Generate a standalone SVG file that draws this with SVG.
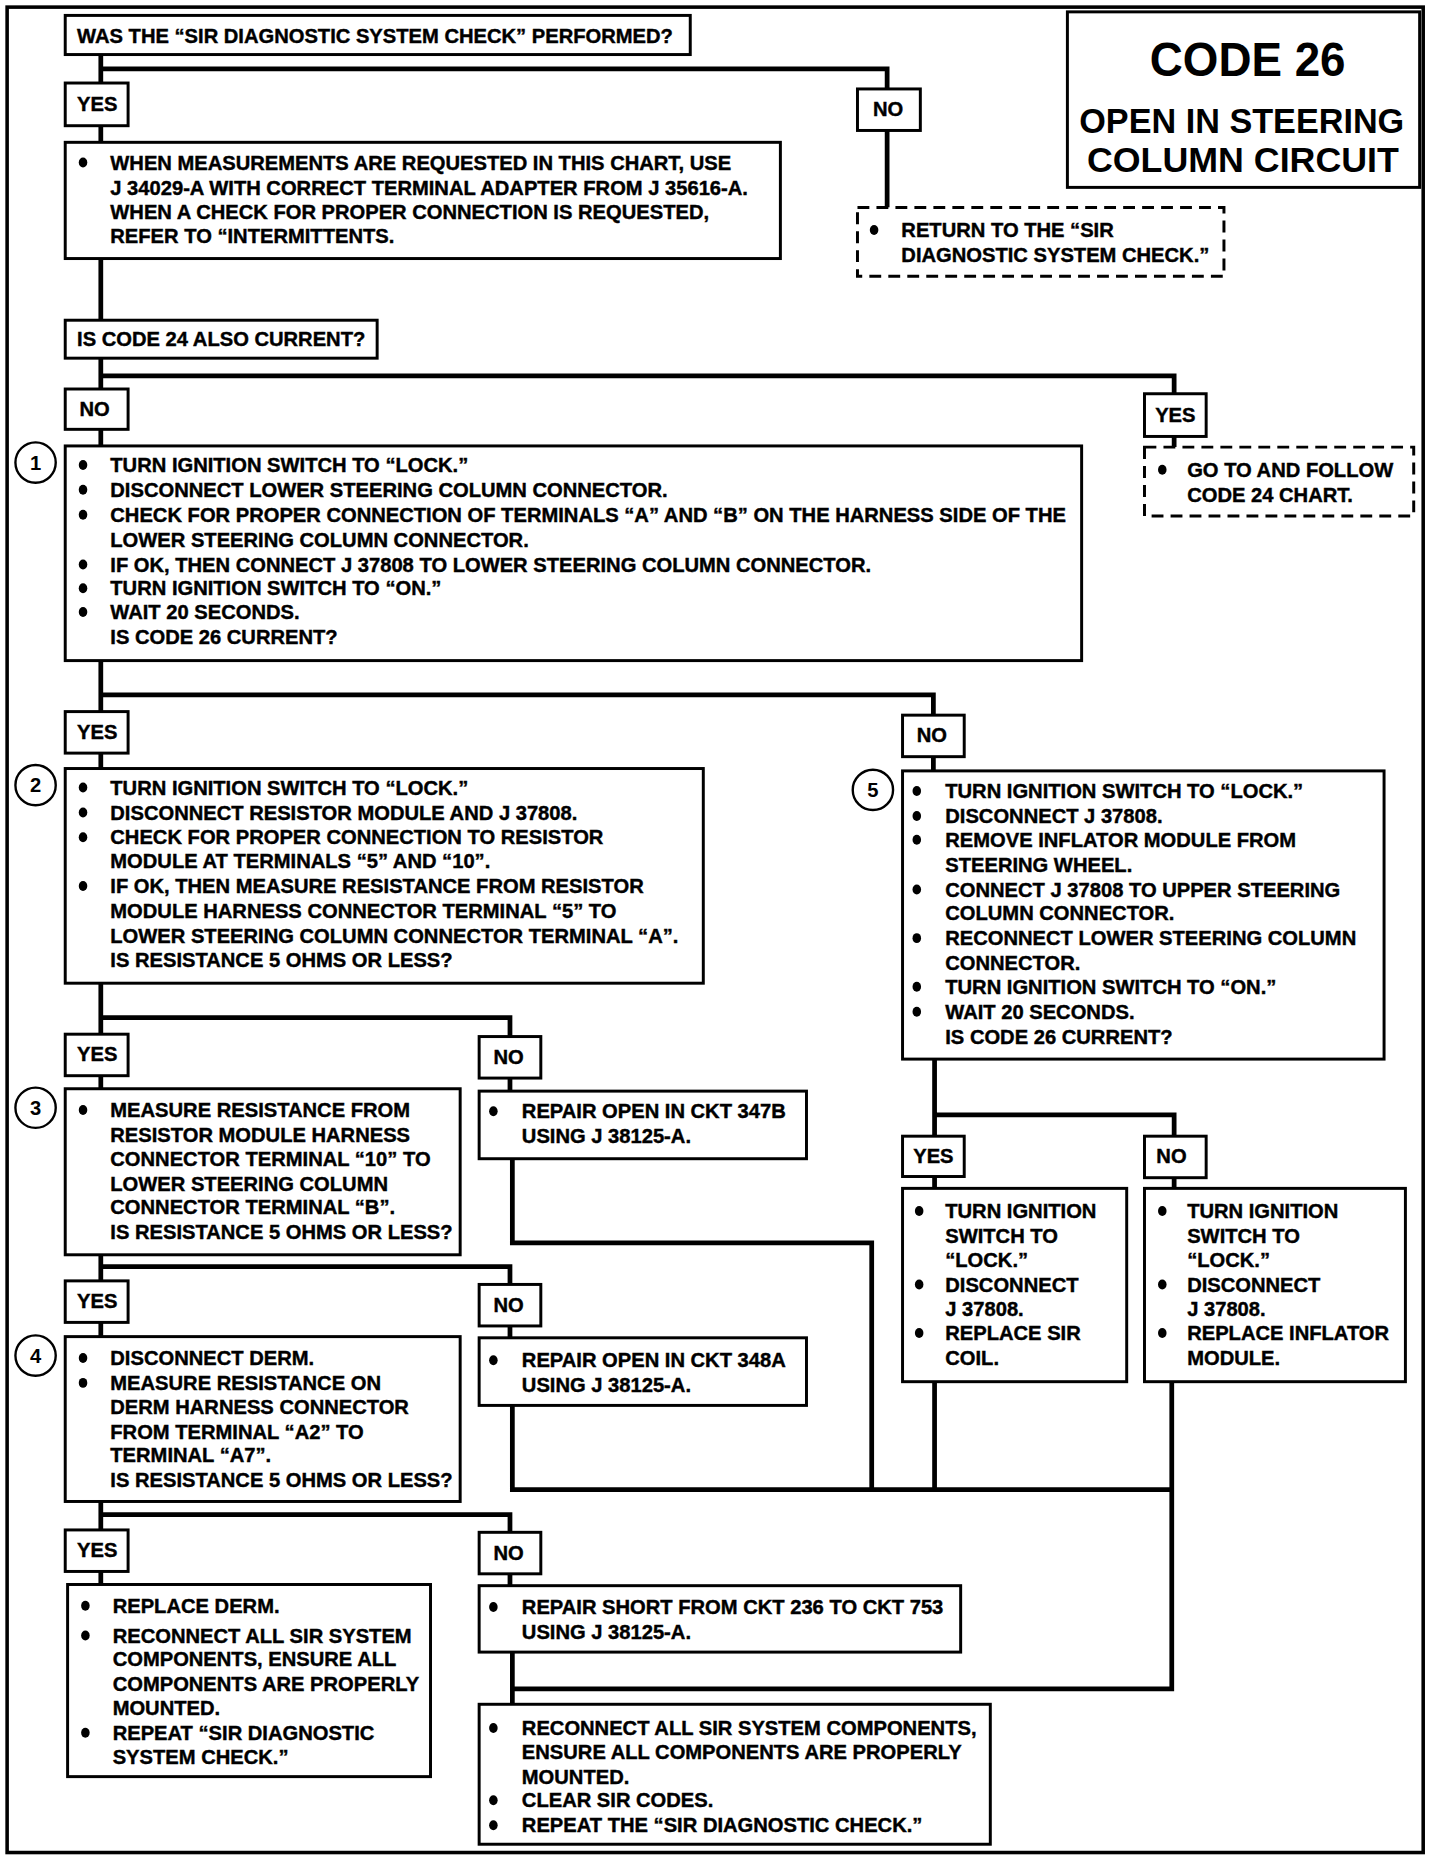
<svg xmlns="http://www.w3.org/2000/svg" width="1440" height="1860" viewBox="0 0 1440 1860">
<style>
.b{fill:#fff;stroke:#000;stroke-width:2.5}
.d{fill:#fff;stroke:#000;stroke-width:2.5;stroke-dasharray:10 6}
.t{font-family:"Liberation Sans",Arial,sans-serif;font-weight:bold;font-size:17px;fill:#000;stroke:#000;stroke-width:0.35}
.n{font-family:"Liberation Sans",Arial,sans-serif;font-weight:bold;font-size:17px;fill:#000;text-anchor:middle}
.c{fill:#fff;stroke:#000;stroke-width:2}
.k{fill:none;stroke:#000;stroke-width:4}
.h{font-family:"Liberation Sans",Arial,sans-serif;font-weight:bold;fill:#000;text-anchor:middle}
</style>
<defs>
<ellipse id="dot" rx="3.6" ry="4.2" fill="#000"/>
</defs>
<rect width="1440" height="1860" fill="#fff"/>
<g transform="scale(1.186)">
<rect x="6" y="6" width="1194" height="1556" fill="none" stroke="#000" stroke-width="3"/>

<g id="connectors">
<path class="k" d="M85,46 V70 M85,58 H748 V75"/>
<path class="k" d="M85,106 V120"/>
<path class="k" d="M748,110 V175"/>
<path class="k" d="M85,218 V270"/>
<path class="k" d="M85,302 V328 M85,317 H990 V332"/>
<path class="k" d="M85,362 V376"/>
<path class="k" d="M990,368 V377"/>
<path class="k" d="M85,557 V600 M85,586 H787 V603"/>
<path class="k" d="M85,635 V648"/>
<path class="k" d="M787,638 V650"/>
<path class="k" d="M85,829 V872 M85,858 H430 V874"/>
<path class="k" d="M85,907 V918 M430,909 V920"/>
<path class="k" d="M85,1058 V1080 M85,1068 H430 V1083"/>
<path class="k" d="M85,1115 V1127 M430,1118 V1128"/>
<path class="k" d="M85,1266 V1290 M85,1277 H430 V1292"/>
<path class="k" d="M85,1325 V1336 M430,1327 V1337"/>
<path class="k" d="M788,893 V958 M788,940 H990 V958"/>
<path class="k" d="M788,992 V1002 M990,993 V1002"/>
<path class="k" d="M432,977 V1048 H735 V1256"/>
<path class="k" d="M432,1185 V1256 H988"/>
<path class="k" d="M788,1165 V1256"/>
<path class="k" d="M988,1165 V1424 H432"/>
<path class="k" d="M432,1393 V1437"/>
</g>

<g id="title">
<rect class="b" x="900" y="10" width="297" height="148"/>
<text class="h" x="1052" y="64" font-size="40" textLength="165" lengthAdjust="spacingAndGlyphs">CODE 26</text>
<text class="h" x="1047" y="112" font-size="30" textLength="274" lengthAdjust="spacingAndGlyphs">OPEN IN STEERING</text>
<text class="h" x="1048" y="145" font-size="30" textLength="263" lengthAdjust="spacingAndGlyphs">COLUMN CIRCUIT</text>
</g>

<g id="q-performed">
<rect class="b" x="55" y="13" width="527" height="33"/>
<text class="t" x="65" y="36">WAS THE “SIR DIAGNOSTIC SYSTEM CHECK” PERFORMED?</text>
</g>

<g id="yes-1"><rect class="b" x="55" y="70" width="53" height="36"/><text class="t" x="65" y="94">YES</text></g>
<g id="no-1"><rect class="b" x="723" y="75" width="53" height="35"/><text class="t" x="736" y="98">NO</text></g>

<g id="note-measure">
<rect class="b" x="55" y="120" width="603" height="98"/>
<use href="#dot" x="70" y="137"/>
<text class="t" x="93" y="143">WHEN MEASUREMENTS ARE REQUESTED IN THIS CHART, USE</text>
<text class="t" x="93" y="164">J 34029-A WITH CORRECT TERMINAL ADAPTER FROM J 35616-A.</text>
<text class="t" x="93" y="185">WHEN A CHECK FOR PROPER CONNECTION IS REQUESTED,</text>
<text class="t" x="93" y="205">REFER TO “INTERMITTENTS.</text>
</g>

<g id="return-check">
<rect class="d" x="723" y="175" width="309" height="58"/>
<use href="#dot" x="737" y="194"/>
<text class="t" x="760" y="200">RETURN TO THE “SIR</text>
<text class="t" x="760" y="221">DIAGNOSTIC SYSTEM CHECK.”</text>
</g>

<g id="q-code24">
<rect class="b" x="55" y="270" width="263" height="32"/>
<text class="t" x="65" y="292">IS CODE 24 ALSO CURRENT?</text>
</g>

<g id="no-2"><rect class="b" x="55" y="328" width="53" height="34"/><text class="t" x="67" y="351">NO</text></g>
<g id="yes-2"><rect class="b" x="965" y="332" width="52" height="36"/><text class="t" x="974" y="356">YES</text></g>

<g id="goto-24">
<rect class="d" x="965" y="377" width="227" height="58"/>
<use href="#dot" x="980" y="396"/>
<text class="t" x="1001" y="402">GO TO AND FOLLOW</text>
<text class="t" x="1001" y="423">CODE 24 CHART.</text>
</g>

<g id="step-1">
<circle class="c" cx="30" cy="390" r="17"/><text class="n" x="30" y="396">1</text>
<rect class="b" x="55" y="376" width="857" height="181"/>
<use href="#dot" x="70" y="392"/><text class="t" x="93" y="398">TURN IGNITION SWITCH TO “LOCK.”</text>
<use href="#dot" x="70" y="413"/><text class="t" x="93" y="419">DISCONNECT LOWER STEERING COLUMN CONNECTOR.</text>
<use href="#dot" x="70" y="434"/><text class="t" x="93" y="440">CHECK FOR PROPER CONNECTION OF TERMINALS “A” AND “B” ON THE HARNESS SIDE OF THE</text>
<text class="t" x="93" y="461">LOWER STEERING COLUMN CONNECTOR.</text>
<use href="#dot" x="70" y="476"/><text class="t" x="93" y="482">IF OK, THEN CONNECT J 37808 TO LOWER STEERING COLUMN CONNECTOR.</text>
<use href="#dot" x="70" y="496"/><text class="t" x="93" y="502">TURN IGNITION SWITCH TO “ON.”</text>
<use href="#dot" x="70" y="516"/><text class="t" x="93" y="522">WAIT 20 SECONDS.</text>
<text class="t" x="93" y="543">IS CODE 26 CURRENT?</text>
</g>

<g id="yes-3"><rect class="b" x="55" y="600" width="53" height="35"/><text class="t" x="65" y="623">YES</text></g>
<g id="no-3"><rect class="b" x="761" y="603" width="52" height="35"/><text class="t" x="773" y="626">NO</text></g>

<g id="step-2">
<circle class="c" cx="30" cy="662" r="17"/><text class="n" x="30" y="668">2</text>
<rect class="b" x="55" y="648" width="538" height="181"/>
<use href="#dot" x="70" y="664"/><text class="t" x="93" y="670">TURN IGNITION SWITCH TO “LOCK.”</text>
<use href="#dot" x="70" y="685"/><text class="t" x="93" y="691">DISCONNECT RESISTOR MODULE AND J 37808.</text>
<use href="#dot" x="70" y="706"/><text class="t" x="93" y="712">CHECK FOR PROPER CONNECTION TO RESISTOR</text>
<text class="t" x="93" y="732">MODULE AT TERMINALS “5” AND “10”.</text>
<use href="#dot" x="70" y="747"/><text class="t" x="93" y="753">IF OK, THEN MEASURE RESISTANCE FROM RESISTOR</text>
<text class="t" x="93" y="774">MODULE HARNESS CONNECTOR TERMINAL “5” TO</text>
<text class="t" x="93" y="795">LOWER STEERING COLUMN CONNECTOR TERMINAL “A”.</text>
<text class="t" x="93" y="815">IS RESISTANCE 5 OHMS OR LESS?</text>
</g>

<g id="step-5">
<circle class="c" cx="736" cy="666" r="17"/><text class="n" x="736" y="672">5</text>
<rect class="b" x="761" y="650" width="406" height="243"/>
<use href="#dot" x="773" y="667"/><text class="t" x="797" y="673">TURN IGNITION SWITCH TO “LOCK.”</text>
<use href="#dot" x="773" y="688"/><text class="t" x="797" y="694">DISCONNECT J 37808.</text>
<use href="#dot" x="773" y="708"/><text class="t" x="797" y="714">REMOVE INFLATOR MODULE FROM</text>
<text class="t" x="797" y="735">STEERING WHEEL.</text>
<use href="#dot" x="773" y="750"/><text class="t" x="797" y="756">CONNECT J 37808 TO UPPER STEERING</text>
<text class="t" x="797" y="776">COLUMN CONNECTOR.</text>
<use href="#dot" x="773" y="791"/><text class="t" x="797" y="797">RECONNECT LOWER STEERING COLUMN</text>
<text class="t" x="797" y="818">CONNECTOR.</text>
<use href="#dot" x="773" y="832"/><text class="t" x="797" y="838">TURN IGNITION SWITCH TO “ON.”</text>
<use href="#dot" x="773" y="853"/><text class="t" x="797" y="859">WAIT 20 SECONDS.</text>
<text class="t" x="797" y="880">IS CODE 26 CURRENT?</text>
</g>

<g id="yes-4"><rect class="b" x="55" y="872" width="53" height="35"/><text class="t" x="65" y="895">YES</text></g>
<g id="no-4"><rect class="b" x="404" y="874" width="52" height="35"/><text class="t" x="416" y="897">NO</text></g>

<g id="step-3">
<circle class="c" cx="30" cy="934" r="17"/><text class="n" x="30" y="940">3</text>
<rect class="b" x="55" y="918" width="333" height="140"/>
<use href="#dot" x="70" y="936"/><text class="t" x="93" y="942">MEASURE RESISTANCE FROM</text>
<text class="t" x="93" y="963">RESISTOR MODULE HARNESS</text>
<text class="t" x="93" y="983">CONNECTOR TERMINAL “10” TO</text>
<text class="t" x="93" y="1004">LOWER STEERING COLUMN</text>
<text class="t" x="93" y="1024">CONNECTOR TERMINAL “B”.</text>
<text class="t" x="93" y="1045">IS RESISTANCE 5 OHMS OR LESS?</text>
</g>

<g id="repair-347b">
<rect class="b" x="404" y="920" width="276" height="57"/>
<use href="#dot" x="416" y="937"/><text class="t" x="440" y="943">REPAIR OPEN IN CKT 347B</text>
<text class="t" x="440" y="964">USING J 38125-A.</text>
</g>

<g id="yes-6"><rect class="b" x="761" y="958" width="52" height="34"/><text class="t" x="770" y="981">YES</text></g>
<g id="no-6"><rect class="b" x="965" y="958" width="52" height="35"/><text class="t" x="975" y="981">NO</text></g>

<g id="replace-coil">
<rect class="b" x="761" y="1002" width="189" height="163"/>
<use href="#dot" x="775" y="1021"/><text class="t" x="797" y="1027">TURN IGNITION</text>
<text class="t" x="797" y="1048">SWITCH TO</text>
<text class="t" x="797" y="1068">“LOCK.”</text>
<use href="#dot" x="775" y="1083"/><text class="t" x="797" y="1089">DISCONNECT</text>
<text class="t" x="797" y="1110">J 37808.</text>
<use href="#dot" x="775" y="1124"/><text class="t" x="797" y="1130">REPLACE SIR</text>
<text class="t" x="797" y="1151">COIL.</text>
</g>

<g id="replace-inflator">
<rect class="b" x="965" y="1002" width="220" height="163"/>
<use href="#dot" x="980" y="1021"/><text class="t" x="1001" y="1027">TURN IGNITION</text>
<text class="t" x="1001" y="1048">SWITCH TO</text>
<text class="t" x="1001" y="1068">“LOCK.”</text>
<use href="#dot" x="980" y="1083"/><text class="t" x="1001" y="1089">DISCONNECT</text>
<text class="t" x="1001" y="1110">J 37808.</text>
<use href="#dot" x="980" y="1124"/><text class="t" x="1001" y="1130">REPLACE INFLATOR</text>
<text class="t" x="1001" y="1151">MODULE.</text>
</g>

<g id="yes-5"><rect class="b" x="55" y="1080" width="53" height="35"/><text class="t" x="65" y="1103">YES</text></g>
<g id="no-5"><rect class="b" x="404" y="1083" width="52" height="35"/><text class="t" x="416" y="1106">NO</text></g>

<g id="step-4">
<circle class="c" cx="30" cy="1143" r="17"/><text class="n" x="30" y="1149">4</text>
<rect class="b" x="55" y="1127" width="333" height="139"/>
<use href="#dot" x="70" y="1145"/><text class="t" x="93" y="1151">DISCONNECT DERM.</text>
<use href="#dot" x="70" y="1166"/><text class="t" x="93" y="1172">MEASURE RESISTANCE ON</text>
<text class="t" x="93" y="1192">DERM HARNESS CONNECTOR</text>
<text class="t" x="93" y="1213">FROM TERMINAL “A2” TO</text>
<text class="t" x="93" y="1233">TERMINAL “A7”.</text>
<text class="t" x="93" y="1254">IS RESISTANCE 5 OHMS OR LESS?</text>
</g>

<g id="repair-348a">
<rect class="b" x="404" y="1128" width="276" height="57"/>
<use href="#dot" x="416" y="1147"/><text class="t" x="440" y="1153">REPAIR OPEN IN CKT 348A</text>
<text class="t" x="440" y="1174">USING J 38125-A.</text>
</g>

<g id="yes-7"><rect class="b" x="55" y="1290" width="53" height="35"/><text class="t" x="65" y="1313">YES</text></g>
<g id="no-7"><rect class="b" x="404" y="1292" width="52" height="35"/><text class="t" x="416" y="1315">NO</text></g>

<g id="replace-derm">
<rect class="b" x="57" y="1336" width="306" height="162"/>
<use href="#dot" x="72" y="1354"/><text class="t" x="95" y="1360">REPLACE DERM.</text>
<use href="#dot" x="72" y="1379"/><text class="t" x="95" y="1385">RECONNECT ALL SIR SYSTEM</text>
<text class="t" x="95" y="1405">COMPONENTS, ENSURE ALL</text>
<text class="t" x="95" y="1426">COMPONENTS ARE PROPERLY</text>
<text class="t" x="95" y="1446">MOUNTED.</text>
<use href="#dot" x="72" y="1461"/><text class="t" x="95" y="1467">REPEAT “SIR DIAGNOSTIC</text>
<text class="t" x="95" y="1487">SYSTEM CHECK.”</text>
</g>

<g id="repair-short">
<rect class="b" x="404" y="1337" width="406" height="56"/>
<use href="#dot" x="416" y="1355"/><text class="t" x="440" y="1361">REPAIR SHORT FROM CKT 236 TO CKT 753</text>
<text class="t" x="440" y="1382">USING J 38125-A.</text>
</g>

<g id="reconnect-all">
<rect class="b" x="404" y="1437" width="431" height="118"/>
<use href="#dot" x="416" y="1457"/><text class="t" x="440" y="1463">RECONNECT ALL SIR SYSTEM COMPONENTS,</text>
<text class="t" x="440" y="1483">ENSURE ALL COMPONENTS ARE PROPERLY</text>
<text class="t" x="440" y="1504">MOUNTED.</text>
<use href="#dot" x="416" y="1518"/><text class="t" x="440" y="1524">CLEAR SIR CODES.</text>
<use href="#dot" x="416" y="1539"/><text class="t" x="440" y="1545">REPEAT THE “SIR DIAGNOSTIC CHECK.”</text>
</g>
</g>
</svg>
